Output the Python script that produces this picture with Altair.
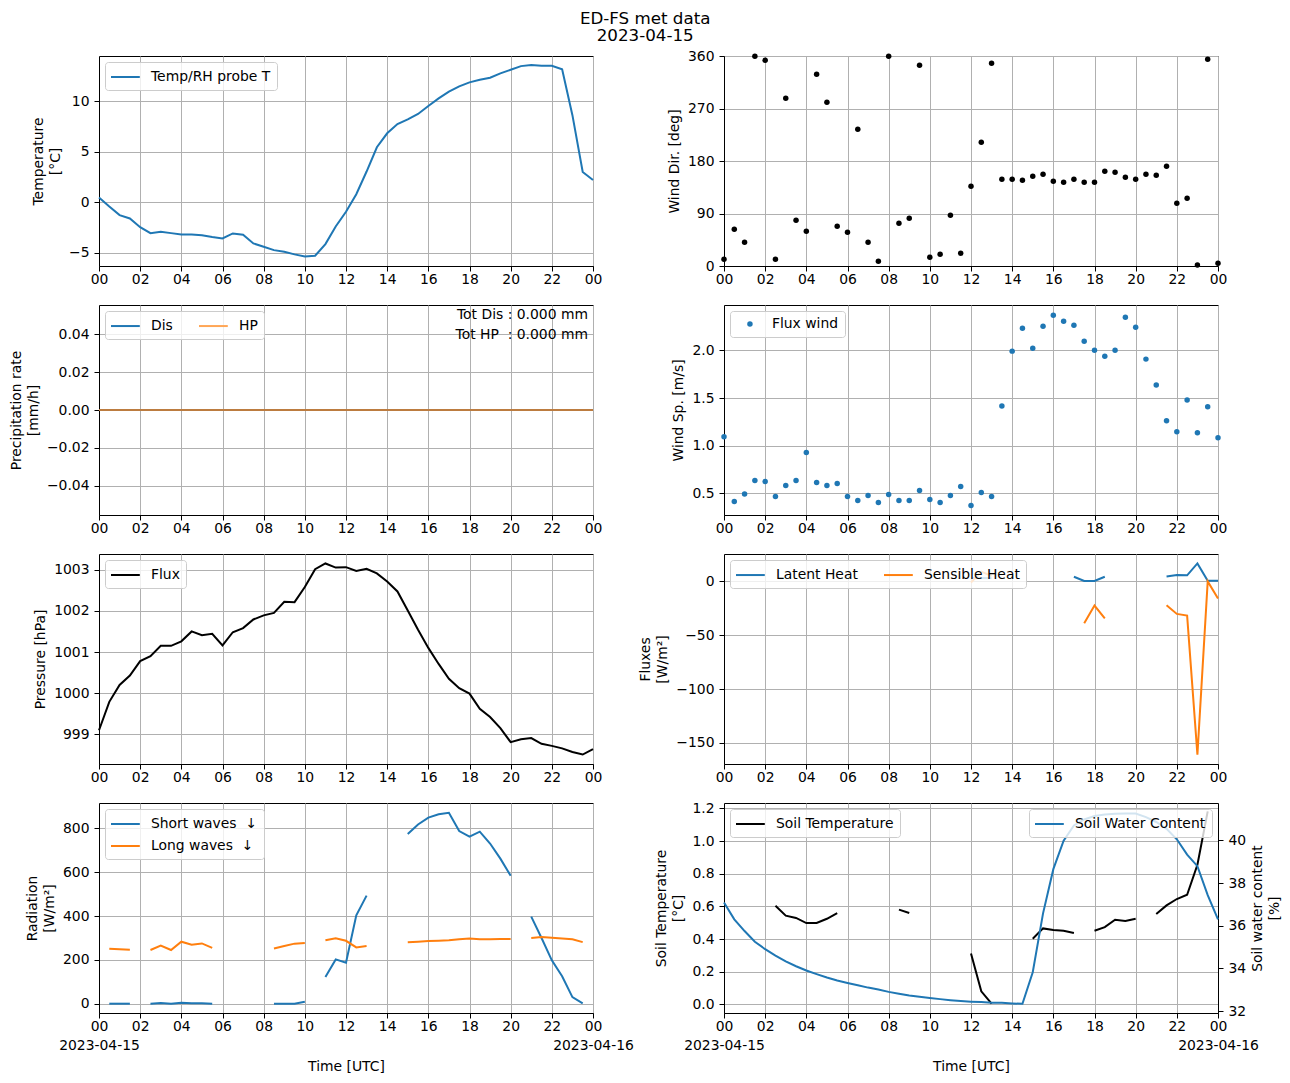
import altair as alt
import pandas as pd

# ---------------- data (half-hourly, 00:00 .. 24:00) ----------------
HOURS = [i * 0.5 for i in range(49)]
X_TICKS = [0, 2, 4, 6, 8, 10, 12, 14, 16, 18, 20, 22, 24]
DATE0 = "2023-04-15"
DATE1 = "2023-04-16"
N = None

TEMP = [0.46, -0.43, -1.28, -1.61, -2.47, -3.06, -2.93, -3.06, -3.19, -3.19,
        -3.26, -3.45, -3.59, -3.09, -3.22, -4.08, -4.41, -4.74, -4.90, -5.16,
        -5.36, -5.30, -4.14, -2.40, -0.95, 0.79, 3.03, 5.43, 6.81, 7.73,
        8.19, 8.72, 9.51, 10.26, 10.92, 11.45, 11.84, 12.10, 12.30, 12.73,
        13.09, 13.45, 13.55, 13.49, 13.49, 13.13, 8.60, 2.99, 2.20]

WDIR = [11.4, 62.9, 40.6, 359.4, 352.6, 11.4, 287.4, 78.3, 59.4, 328.6,
        280.6, 68.0, 57.7, 234.3, 40.6, 8.0, 359.4, 73.1, 81.7, 344.0,
        14.9, 20.0, 86.9, 21.7, 136.6, 212.0, 347.4, 148.6, 148.6, 146.9,
        153.7, 157.1, 145.1, 143.4, 148.6, 143.4, 143.4, 162.3, 160.6, 152.0,
        148.6, 157.1, 155.4, 170.9, 107.4, 116.0, 1.7, 354.3, 4.6]

PRECIP_DIS = [0, 0, 0, 0, 0, 0, 0, 0, 0, 0, 0, 0, 0, 0, 0, 0, 0, 0, 0, 0, 0, 0, 0, 0, 0,
              0, 0, 0, 0, 0, 0, 0, 0, 0, 0, 0, 0, 0, 0, 0, 0, 0, 0, 0, 0, 0, 0, 0, 0]
PRECIP_HP = [0, 0, 0, 0, 0, 0, 0, 0, 0, 0, 0, 0, 0, 0, 0, 0, 0, 0, 0, 0, 0, 0, 0, 0, 0,
             0, 0, 0, 0, 0, 0, 0, 0, 0, 0, 0, 0, 0, 0, 0, 0, 0, 0, 0, 0, 0, 0, 0, 0]
TOT_LINES = ["Tot Dis : 0.000 mm", "Tot HP \u00a0: 0.000 mm"]

WSPD = [1.093, 0.413, 0.490, 0.633, 0.622, 0.465, 0.580, 0.633, 0.926, 0.612,
        0.580, 0.601, 0.465, 0.423, 0.476, 0.402, 0.486, 0.423, 0.423, 0.528,
        0.434, 0.402, 0.476, 0.570, 0.371, 0.507, 0.465, 1.417, 1.993, 2.234,
        2.024, 2.254, 2.370, 2.307, 2.265, 2.097, 2.003, 1.940, 2.003, 2.349,
        2.244, 1.909, 1.637, 1.260, 1.145, 1.480, 1.135, 1.407, 1.082]

PRESS = [999.10, 999.79, 1000.20, 1000.43, 1000.78, 1000.90, 1001.15, 1001.15, 1001.26, 1001.50,
         1001.41, 1001.44, 1001.16, 1001.48, 1001.58, 1001.79, 1001.89, 1001.95, 1002.22, 1002.21,
         1002.58, 1003.01, 1003.15, 1003.05, 1003.06, 1002.97, 1003.02, 1002.91, 1002.71, 1002.47,
         1002.01, 1001.54, 1001.10, 1000.71, 1000.35, 1000.12, 999.99, 999.62, 999.42, 999.15,
         998.81, 998.88, 998.91, 998.77, 998.72, 998.66, 998.57, 998.51, 998.64]

LATENT = [N, N, N, N, N, N, N, N, N, N, N, N, N, N, N, N, N, N, N, N, N, N, N, N,
          3.0, 3.0, 3.0, N, N, N, N, N, N, N, 4.3, 0.3, 0.3, 4.3, N, N, N, N, N,
          4.6, 5.9, 5.6, 16.7, 0.6, 0.6]
SENSIBLE = [N, N, N, N, N, N, N, N, N, N, N, N, N, N, N, N, N, N, N, N, N, N, N, N,
            -1.0, 9.0, 5.0, N, N, N, N, N, N, N, N, -38.9, -22.5, -34.3, N, N, N, N, N,
            -22.2, -30.2, -31.8, -160.8, 0.0, -16.0]

SW_DOWN = [N, 0, 0, 0, N, 0, 3, 0, 4.5, 2, 1.5, 0, N, N, N, N, N, 0, 0, 0, 9, N,
           122, 202, 187, 403, 493, N, N, N, 774, 818, 849, 864, 871, 788, 762, 785,
           731, 662, 584, N, 397, 300, 198, 125, 30, 1.5, N]
LW_DOWN = [N, 251, 248, 246, N, 245, 265, 245, 283, 269, 275, 255, N, N, N, N, N,
           252, 263, 274, 277, N, 289, 298, 287, 257, 263, N, N, N, 280, 283, 286,
           287, 289, 294, 298, 294, 294, 295, 295, N, 300, 304, 301, 298, 294, 281, N]

SOIL_T = [N, N, N, N, N, 0.604, 0.543, 0.529, 0.498, 0.498, 0.524, 0.559, N, N, N, N, N,
          0.580, 0.559, N, N, N, N, N, 0.312, 0.080, 0.004, N, N, N, 0.402, 0.465, 0.455,
          0.451, 0.437, N, 0.451, 0.473, 0.518, 0.510, 0.524, N, 0.553, 0.606, 0.645,
          0.671, 0.855, 1.182, N]
SWC = [37.09, 36.30, 35.75, 35.25, 34.90, 34.60, 34.33, 34.10, 33.90, 33.73,
       33.57, 33.43, 33.32, 33.21, 33.10, 33.01, 32.90, 32.81, 32.73, 32.67,
       32.61, 32.56, 32.51, 32.47, 32.44, 32.42, 32.39, 32.39, 32.36, 32.34,
       33.82, 36.58, 38.65, 39.98, 40.70, 40.98, 41.14, 41.21, 41.25, 41.26,
       41.26, 41.09, 40.86, 40.54, 40.05, 39.33, 38.79, 37.43, 36.30]

# ---------------- styling ----------------
BLUE = "#1f77b4"
ORANGE = "#ff7f0e"
FONT = "DejaVu Sans"
FS = 13.9
W, H = 494, 210
LINE_SYMBOL = "M-1.8,0H1.8"


def long_df(series):
    rows = []
    for name, vals in series:
        seg, prev = 0, False
        for h, v in zip(HOURS, vals):
            if v is None:
                prev = False
                continue
            if not prev:
                seg += 1
            rows.append({"hour": h, "value": v, "series": name, "seg": f"{name}-{seg}"})
            prev = True
    return pd.DataFrame(rows)


HOUR_LABEL = "(datum.value % 24 < 10 ? '0' : '') + (datum.value % 24)"


def x_enc(bottom=False):
    if bottom:
        expr = ("[" + HOUR_LABEL + ", datum.value == 0 ? '" + DATE0 +
                "' : (datum.value == 24 ? '" + DATE1 + "' : '')]")
        axis = alt.Axis(values=X_TICKS, labelExpr=expr, labelOverlap=False,
                        labelFlush=False, title="Time [UTC]", labelLineHeight=19,
                        titlePadding=8, labelPadding=1)
    else:
        axis = alt.Axis(values=X_TICKS, labelExpr=HOUR_LABEL, labelOverlap=False,
                        labelFlush=False, title=None, labelPadding=1)
    return alt.X("hour:Q", scale=alt.Scale(domain=[0, 24], nice=False, zero=False), axis=axis)


def y_enc(domain, values, title, fmt=None, **kw):
    ax = dict(values=values, title=title)
    if fmt:
        ax["format"] = fmt
    ax.update(kw)
    return alt.Y("value:Q", scale=alt.Scale(domain=domain, nice=False, zero=False),
                 axis=alt.Axis(**ax))


def color_enc(names, colors, orient="top-left", direction="vertical", columns=None,
              kind="line"):
    lg = dict(title=None, orient=orient, direction=direction)
    if columns:
        lg["columns"] = columns
        lg["columnPadding"] = 22
    if kind == "line":
        lg.update(symbolType=LINE_SYMBOL, symbolSize=256, symbolOffset=5.4, labelOffset=16.6)
    else:
        lg.update(symbolType="circle", symbolSize=30, symbolOffset=7, labelOffset=15)
    return alt.Color("series:N", scale=alt.Scale(domain=names, range=colors),
                     legend=alt.Legend(**lg))


# 1. temperature
p_temp = alt.Chart(long_df([("Temp/RH probe T", TEMP)])).mark_line(strokeWidth=2).encode(
    x=x_enc(), y=y_enc([-6.31, 14.45], [-5, 0, 5, 10], ["Temperature", "[°C]"]),
    color=color_enc(["Temp/RH probe T"], [BLUE]), detail="seg:N",
).properties(width=W, height=H)

# 2. wind direction
p_wdir = alt.Chart(pd.DataFrame({"hour": HOURS, "value": WDIR})).mark_circle(
    size=30, color="black", opacity=1).encode(
    x=x_enc(), y=y_enc([0, 360], [0, 90, 180, 270, 360], "Wind Dir. [deg]"),
).properties(width=W, height=H)

# 3. precipitation
pr_dis = alt.Chart(long_df([("Dis", PRECIP_DIS)])).mark_line(strokeWidth=2).encode(
    x=x_enc(),
    y=y_enc([-0.0555, 0.0555], [-0.04, -0.02, 0.0, 0.02, 0.04],
            ["Precipitation rate", "[mm/h]"], fmt=".2f"),
    color=color_enc(["Dis", "HP"], [BLUE, "#ffa656"], direction="horizontal", columns=2),
    detail="seg:N",
)
pr_hp = alt.Chart(long_df([("HP", PRECIP_HP)])).mark_line(
    strokeWidth=2, color=ORANGE, opacity=0.7).encode(
    x=x_enc(), y=alt.Y("value:Q"), detail="seg:N")
pr_txt1 = alt.Chart(pd.DataFrame({"t": [TOT_LINES[0]]})).mark_text(
    align="right", baseline="middle", fontSize=FS, font=FONT, color="black").encode(
    text="t:N", x=alt.value(489), y=alt.value(10))
pr_txt2 = alt.Chart(pd.DataFrame({"t": [TOT_LINES[1]]})).mark_text(
    align="right", baseline="middle", fontSize=FS, font=FONT, color="black").encode(
    text="t:N", x=alt.value(489), y=alt.value(30))
p_precip = alt.layer(pr_dis, pr_hp, pr_txt1, pr_txt2).properties(width=W, height=H)

# 4. wind speed
p_wspd = alt.Chart(long_df([("Flux wind", WSPD)])).mark_point(
    filled=True, size=30, opacity=1, shape="circle").encode(
    x=x_enc(), y=y_enc([0.27, 2.478], [0.5, 1.0, 1.5, 2.0], "Wind Sp. [m/s]", fmt=".1f"),
    color=color_enc(["Flux wind"], [BLUE], kind="point"),
).properties(width=W, height=H)

# 5. pressure
p_press = alt.Chart(long_df([("Flux", PRESS)])).mark_line(strokeWidth=2).encode(
    x=x_enc(), y=y_enc([998.28, 1003.38], [999, 1000, 1001, 1002, 1003], "Pressure [hPa]",
                       fmt="d"),
    color=color_enc(["Flux"], ["black"]), detail="seg:N",
).properties(width=W, height=H)

# 6. fluxes
p_flux = alt.Chart(long_df([("Latent Heat", LATENT), ("Sensible Heat", SENSIBLE)])).mark_line(
    strokeWidth=2).encode(
    x=x_enc(), y=y_enc([-169.5, 25.4], [-150, -100, -50, 0], ["Fluxes", "[W/m²]"]),
    color=color_enc(["Latent Heat", "Sensible Heat"], [BLUE, ORANGE],
                    direction="horizontal", columns=2),
    detail="seg:N",
).properties(width=W, height=H)

# 7. radiation
SW_NAME = "Short waves\u00a0\u00a0↓"
LW_NAME = "Long waves\u00a0\u00a0↓"
p_rad = alt.Chart(long_df([(SW_NAME, SW_DOWN), (LW_NAME, LW_DOWN)])).mark_line(
    strokeWidth=2).encode(
    x=x_enc(True), y=y_enc([-42.5, 915.8], [0, 200, 400, 600, 800], ["Radiation", "[W/m²]"]),
    color=color_enc([SW_NAME, LW_NAME], [BLUE, ORANGE]), detail="seg:N",
).properties(width=W, height=H)

# 8. soil
soil_t = alt.Chart(long_df([("Soil Temperature", SOIL_T)])).mark_line(strokeWidth=2).encode(
    x=x_enc(True),
    y=y_enc([-0.053, 1.233], [0.0, 0.2, 0.4, 0.6, 0.8, 1.0, 1.2],
            ["Soil Temperature", "[°C]"], fmt=".1f"),
    color=color_enc(["Soil Temperature"], ["black"]), detail="seg:N",
)
soil_w = alt.Chart(long_df([("Soil Water Content", SWC)])).mark_line(strokeWidth=2).encode(
    x=x_enc(True),
    y=y_enc([31.91, 41.75], [32, 34, 36, 38, 40], ["Soil water content", "[%]"],
            fmt="d", orient="right", grid=False, titleAngle=270, titleBaseline="top",
            titleX=32),
    color=color_enc(["Soil Water Content"], [BLUE], orient="top-right"), detail="seg:N",
)
p_soil = alt.layer(soil_t, soil_w).resolve_scale(
    y="independent", color="independent").resolve_legend(color="independent").properties(
    width=W, height=H)

chart = alt.concat(
    p_temp, p_wdir, p_precip, p_wspd, p_press, p_flux, p_rad, p_soil,
    columns=2,
    spacing={"row": 39, "column": 131},
    bounds="flush",
    title=alt.TitleParams(["ED-FS met data", "2023-04-15"], anchor="middle", fontSize=16.7,
                          fontWeight="normal", font=FONT, color="black", lineHeight=17,
                          offset=4),
    padding={"left": 0, "top": 2, "right": 0, "bottom": 0},
).resolve_scale(color="independent").resolve_legend(color="independent")

chart = chart.configure(font=FONT).configure_view(
    stroke="black", strokeWidth=1
).configure_axis(
    grid=True, gridColor="#b0b0b0", gridWidth=1,
    domainColor="black", domainWidth=1,
    tickColor="black", tickSize=5, tickWidth=1,
    labelColor="black", labelFontSize=FS, labelFont=FONT, labelPadding=5,
    titleColor="black", titleFontSize=FS, titleFont=FONT, titleFontWeight="normal",
    titlePadding=6, titleLineHeight=17,
).configure_legend(
    labelFontSize=FS, labelFont=FONT, labelColor="black",
    fillColor="rgba(255,255,255,0.8)", strokeColor="#cccccc", cornerRadius=3,
    padding=6, offset=6, symbolStrokeWidth=2, rowPadding=6, symbolOpacity=1,
).configure_title(anchor="middle")

chart.save("out.html", embed_options={"renderer": "svg", "actions": False})
